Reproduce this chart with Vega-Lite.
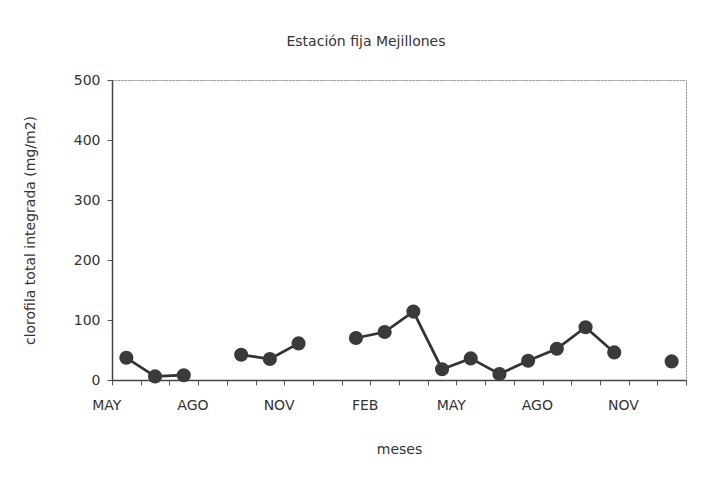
{
  "$schema": "https://vega.github.io/schema/vega-lite/v6.json",
  "autosize": "none",
  "width": 574,
  "height": 300,
  "padding": {"left": 112, "top": 80, "right": 26, "bottom": 107},
  "background": "white",
  "title": {
    "text": "Estación fija Mejillones",
    "font": "DejaVu Sans",
    "fontSize": 14,
    "fontWeight": "normal",
    "color": "#333333",
    "anchor": "middle",
    "dx": -33,
    "offset": 24
  },
  "data": {
    "values": [
      {"i": 0, "mes": "MAY", "clorofila": 37},
      {"i": 1, "mes": "JUN", "clorofila": 6},
      {"i": 2, "mes": "JUL", "clorofila": 8},
      {"i": 3, "mes": "AGO", "clorofila": null},
      {"i": 4, "mes": "SEP", "clorofila": 42},
      {"i": 5, "mes": "OCT", "clorofila": 35},
      {"i": 6, "mes": "NOV", "clorofila": 61},
      {"i": 7, "mes": "DIC", "clorofila": null},
      {"i": 8, "mes": "ENE", "clorofila": 70},
      {"i": 9, "mes": "FEB", "clorofila": 80},
      {"i": 10, "mes": "MAR", "clorofila": 114},
      {"i": 11, "mes": "ABR", "clorofila": 18},
      {"i": 12, "mes": "MAY", "clorofila": 36},
      {"i": 13, "mes": "JUN", "clorofila": 10},
      {"i": 14, "mes": "JUL", "clorofila": 32},
      {"i": 15, "mes": "AGO", "clorofila": 52},
      {"i": 16, "mes": "SEP", "clorofila": 88},
      {"i": 17, "mes": "OCT", "clorofila": 46},
      {"i": 18, "mes": "NOV", "clorofila": null},
      {"i": 19, "mes": "DIC", "clorofila": 31}
    ]
  },
  "encoding": {
    "x": {
      "field": "i",
      "type": "ordinal",
      "scale": {"type": "band", "paddingInner": 0, "paddingOuter": 0},
      "axis": {
        "title": "meses",
        "labelAngle": 0,
        "tickBand": "extent",
        "tickSize": 5,
        "tickColor": "#555555",
        "domainColor": "#444444",
        "domainWidth": 1.5,
        "labelPadding": 13,
        "labelOffset": -20,
        "labelFont": "DejaVu Sans",
        "labelFontSize": 14,
        "labelColor": "#333333",
        "labelExpr": "['MAY','','','AGO','','','NOV','','','FEB','','','MAY','','','AGO','','','NOV',''][datum.value]",
        "titleFont": "DejaVu Sans",
        "titleFontSize": 14,
        "titleFontWeight": "normal",
        "titleColor": "#333333",
        "titlePadding": 30
      }
    },
    "y": {
      "field": "clorofila",
      "type": "quantitative",
      "scale": {"domain": [0, 500]},
      "axis": {
        "title": "clorofila total integrada (mg/m2)",
        "values": [0, 100, 200, 300, 400, 500],
        "grid": false,
        "tickSize": 5,
        "tickColor": "#555555",
        "domainColor": "#444444",
        "domainWidth": 1.5,
        "labelPadding": 7,
        "labelFont": "DejaVu Sans",
        "labelFontSize": 14,
        "labelColor": "#333333",
        "titleFont": "DejaVu Sans",
        "titleFontSize": 14,
        "titleFontWeight": "normal",
        "titleColor": "#333333",
        "titlePadding": 36
      }
    }
  },
  "layer": [
    {
      "mark": {"type": "line", "color": "#333333", "strokeWidth": 2.7, "invalid": "break-paths-show-domains"}
    },
    {
      "mark": {"type": "circle", "color": "#3a3a3a", "opacity": 1, "size": 200}
    }
  ],
  "config": {
    "view": {"stroke": "#888888", "strokeDash": [2, 1], "strokeWidth": 1}
  }
}
